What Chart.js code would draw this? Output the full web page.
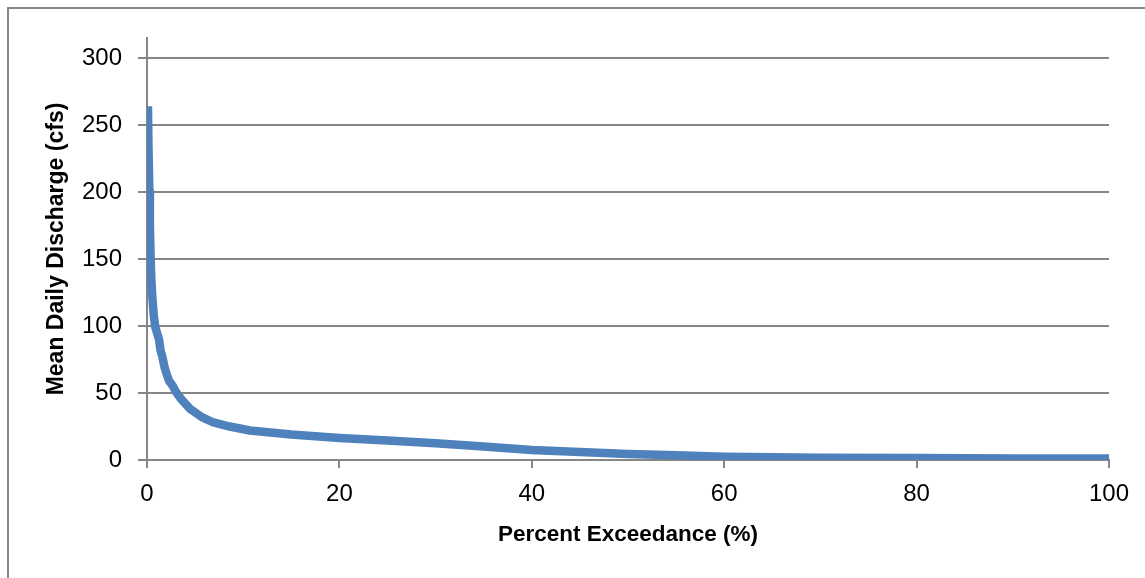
<!DOCTYPE html>
<html>
<head>
<meta charset="utf-8">
<script src="https://cdn.jsdelivr.net/npm/chart.js@4/dist/chart.umd.min.js"></script>
<style>
  html, body { margin: 0; padding: 0; background: #fff; }
  #wrap { width: 1145px; height: 578px; }
</style>
</head>
<body>
<div id="wrap"><canvas id="flowChart" width="1145" height="578"></canvas></div>
<script>
// flow duration curve
const pctExceed = [0.1, 0.15, 0.24, 0.3, 0.38, 0.45, 0.55, 0.7, 0.87, 1.0, 1.25, 1.4, 1.6, 1.8, 2.0, 2.3, 2.7, 3.0, 3.6, 4.5, 5.7, 6.9, 8.6, 10.7, 15, 20, 25, 30, 35, 40, 45, 50, 55, 60, 65, 70, 80, 90, 100];
const dischargeCfs = [264, 235, 201, 175, 150, 135, 122, 108, 99, 96, 90, 82, 77, 70, 65, 59, 55, 51, 45, 38, 32, 28, 25, 22, 19, 16.5, 14.5, 12.5, 10, 7.5, 6, 4.5, 3.5, 2.5, 2, 1.7, 1.4, 1.2, 1.1];
const xTicks = [0, 20, 40, 60, 80, 100];
const yTicks = [0, 50, 100, 150, 200, 250, 300];

const xTitle = "Percent Exceedance (%)";
const yTitle = "Mean Daily Discharge (cfs)";

const gridGray = "#868686";

const points = pctExceed.map((x, i) => ({ x: x, y: dischargeCfs[i] }));

// outer frame of the chart object
const frame = {
  id: "frame",
  beforeDraw(chart) {
    const ctx = chart.ctx;
    ctx.save();
    ctx.fillStyle = "#fff";
    ctx.fillRect(0, 0, chart.width, chart.height);
    ctx.strokeStyle = gridGray;
    ctx.lineWidth = 2;
    ctx.strokeRect(8, 8, chart.width + 20, chart.height + 20);
    ctx.restore();
  },
};

new Chart(document.getElementById("flowChart"), {
  type: "scatter",
  data: {
    datasets: [
      {
        data: points,
        showLine: true,
        borderColor: "#4F81BD",
        backgroundColor: "#4F81BD",
        borderWidth: 8.5,
        borderCapStyle: "butt",
        borderJoinStyle: "round",
        pointRadius: 0,
        tension: 0,
      },
    ],
  },
  plugins: [frame],
  options: {
    responsive: false,
    animation: false,
    devicePixelRatio: 1,
    layout: { padding: { left: 43, top: 38, right: 36, bottom: 0 } },
    plugins: { legend: { display: false }, tooltip: { enabled: false } },
    scales: {
      x: {
        type: "linear",
        min: 0,
        max: 100,
        afterFit: (s) => { s.height = 118; },
        afterBuildTicks: (s) => { s.ticks = xTicks.map((v) => ({ value: v })); },
        ticks: {
          padding: 12,
          color: "#000",
          font: { family: "Liberation Sans", size: 24 },
        },
        grid: {
          drawOnChartArea: false,
          drawTicks: true,
          tickLength: 8,
          color: gridGray,
          lineWidth: 2,
        },
        border: { display: true, color: gridGray, width: 2 },
        title: {
          display: true,
          text: xTitle,
          color: "#000",
          font: { family: "Liberation Sans", size: 22.5, weight: "bold" },
          padding: { top: 29.5, bottom: 29.5 },
        },
      },
      y: {
        type: "linear",
        min: 0,
        max: 315,
        afterFit: (s) => { s.width = 104; },
        afterBuildTicks: (s) => { s.ticks = yTicks.map((v) => ({ value: v })); },
        ticks: {
          padding: 16,
          color: "#000",
          font: { family: "Liberation Sans", size: 24 },
        },
        grid: {
          drawTicks: true,
          tickLength: 9,
          color: gridGray,
          lineWidth: 2,
        },
        border: { display: true, color: gridGray, width: 2 },
        title: {
          display: true,
          text: yTitle,
          color: "#000",
          font: { family: "Liberation Sans", size: 23, weight: "bold" },
          padding: 0,
        },
      },
    },
  },
});
</script>
</body>
</html>
